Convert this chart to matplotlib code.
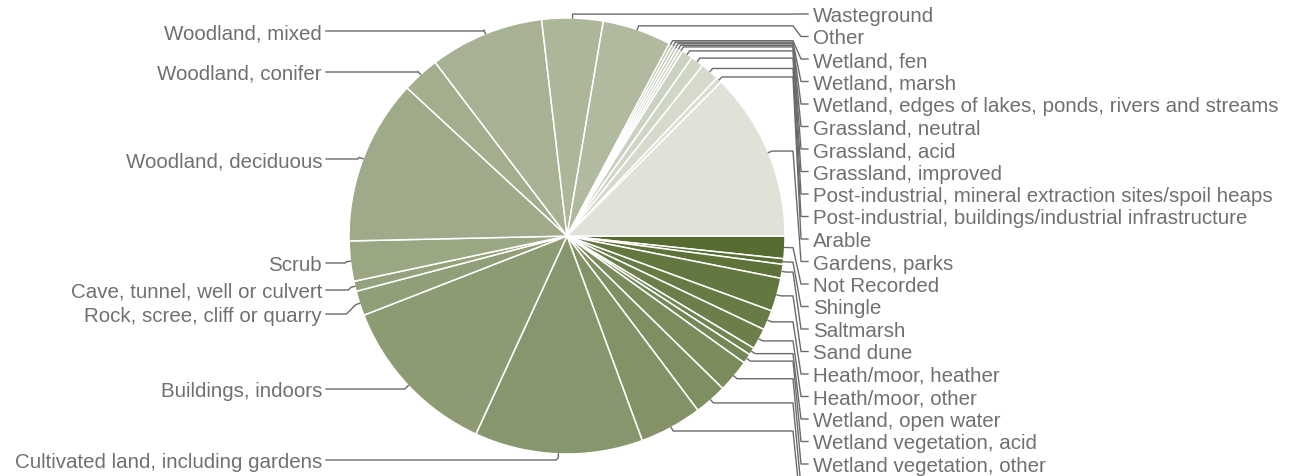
import matplotlib
matplotlib.use("Agg")
import matplotlib.pyplot as plt
import numpy as np

# ---- data (slice order clockwise from 3 o'clock) ----
categories = [
    "Not Recorded", "Shingle", "Saltmarsh", "Sand dune",
    "Heath/moor, heather", "Heath/moor, other", "Wetland, open water",
    "Wetland vegetation, acid", "Wetland vegetation, other",
    "Hedgerow", "Grassland, calcareous",
    "Cultivated land, including gardens", "Buildings, indoors",
    "Rock, scree, cliff or quarry", "Cave, tunnel, well or culvert", "Scrub",
    "Woodland, deciduous", "Woodland, conifer", "Woodland, mixed",
    "Wasteground", "Other", "Wetland, fen", "Wetland, marsh",
    "Wetland, edges of lakes, ponds, rivers and streams",
    "Grassland, neutral", "Grassland, acid", "Grassland, improved",
    "Post-industrial, mineral extraction sites/spoil heaps",
    "Post-industrial, buildings/industrial infrastructure",
    "Arable", "Gardens, parks",
]
shares = [
    6.0, 1.5, 3.7, 8.9,
    5.3, 5.6, 2.0,
    2.6, 8.8,
    8.7, 16.7,
    44.9, 44.0,
    6.6, 2.7, 10.7,
    44.1, 10.0, 30.5,
    16.3, 18.4, 0.8, 0.8,
    0.8,
    0.8, 0.8, 3.0,
    3.5,
    5.0,
    1.5, 45.0,
]

# ---- layout ----
W, H = 1304, 477
CX, CY, R = 567, 237, 218            # pixel coords, y from top
left_label_y = [32, 73, 160, 264, 291, 315, 390, 461]
right_label_y0, right_step = 15, 22.5
LEFT_TEXT_X, RIGHT_TEXT_X = 322, 813
TEXT_DY = 1.5
LINE_C = "#6b6b6b"
TEXT_C = "#707070"

n = len(shares)
c_dark = np.array([85, 107, 47]) / 255
c_light = np.array([222, 226, 215]) / 255
colors = [tuple(c_dark + (c_light - c_dark) * i / (n - 1)) for i in range(n)]

fig = plt.figure(figsize=(W / 100, H / 100), dpi=100)
ax = fig.add_axes([0, 0, 1, 1])
wedges, _ = ax.pie(shares, colors=colors, startangle=0, counterclock=False,
                   center=(CX, H - CY), radius=R,
                   wedgeprops=dict(edgecolor="white", linewidth=1.1))
ax.set_xlim(0, W)
ax.set_ylim(0, H)
ax.set_aspect("equal")
ax.axis("off")

def ty(y):
    return H - y

info = []
for i, w in enumerate(wedges):
    mid = np.deg2rad((w.theta1 + w.theta2) / 2)
    ex, ey = CX + R * np.cos(mid), CY - R * np.sin(mid)
    ox, oy = CX + (R + 4) * np.cos(mid), CY - (R + 4) * np.sin(mid)
    cw_from_top = (90 - np.rad2deg(mid)) % 360
    info.append((i, ex, ey, ox, oy, cw_from_top))

right = sorted([t for t in info if t[5] <= 180], key=lambda t: t[5])
left = sorted([t for t in info if t[5] > 180], key=lambda t: -t[5])

font = dict(family=["Liberation Sans", "DejaVu Sans"], size=14.8, color=TEXT_C)

for k, (i, ex, ey, ox, oy, _) in enumerate(right):
    yl = right_label_y0 + right_step * k
    xs = [ex, ox, 793, 801, 808]
    ys = [ey, oy, oy, yl, yl]
    ax.plot(xs, [ty(v) for v in ys], color=LINE_C, lw=1.0, solid_joinstyle="round")
    if yl < H - 5:
        ax.text(RIGHT_TEXT_X, ty(yl + TEXT_DY), categories[i], ha="left", va="center", **font)

for k, (i, ex, ey, ox, oy, _) in enumerate(left):
    yl = left_label_y[k]
    xk = ox - abs(yl - oy)
    xs = [ex, ox, xk, 326]
    ys = [ey, oy, yl, yl]
    ax.plot(xs, [ty(v) for v in ys], color=LINE_C, lw=1.0, solid_joinstyle="round")
    ax.text(LEFT_TEXT_X, ty(yl + TEXT_DY), categories[i], ha="right", va="center", **font)

fig.savefig("out.png", dpi=100)
